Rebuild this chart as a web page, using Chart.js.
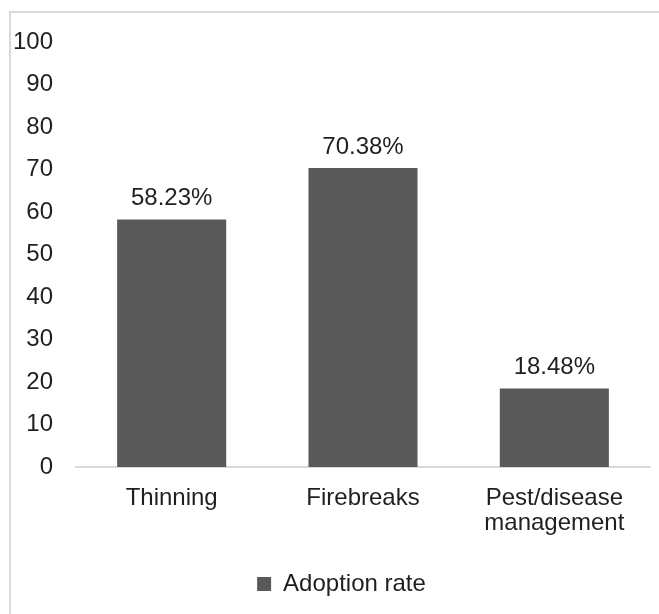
<!DOCTYPE html>
<html>
<head>
<meta charset="utf-8">
<script src="https://cdn.jsdelivr.net/npm/chart.js@4"></script>
<style>
html,body{margin:0;padding:0;background:#fff;}
#wrap{width:659px;height:614px;position:relative;}
</style>
</head>
<body>
<div id="wrap"><canvas id="c" width="659" height="614"></canvas></div>
<script>
const categories = [["Thinning"], ["Firebreaks"], ["Pest/disease", "management"]];
const adoptionRate = [58.23, 70.38, 18.48];
const valueLabels = ["58.23%", "70.38%", "18.48%"];
const seriesName = "Adoption rate";
const yTicks = [0, 10, 20, 30, 40, 50, 60, 70, 80, 90, 100];

const FONT = "'Liberation Sans', Arial, sans-serif";
const TEXT = "#1f1f1f";

const frame = {
  id: 'frame',
  beforeDraw(chart) {
    const ctx = chart.ctx;
    ctx.save();
    ctx.fillStyle = '#fff';
    ctx.fillRect(0, 0, chart.width, chart.height);
    ctx.strokeStyle = '#d9d9d9';
    ctx.lineWidth = 2;
    ctx.beginPath();
    ctx.moveTo(10, 614);
    ctx.lineTo(10, 12);
    ctx.lineTo(659, 12);
    ctx.stroke();
    ctx.restore();
  },
  afterLayout(chart) {
    if (chart.legend) { chart.legend.left += 21; }
  }
};

const dataLabels = {
  id: 'dataLabels',
  afterDatasetsDraw(chart) {
    const ctx = chart.ctx;
    const meta = chart.getDatasetMeta(0);
    ctx.save();
    ctx.font = "24px " + FONT;
    ctx.fillStyle = TEXT;
    ctx.textAlign = 'center';
    ctx.textBaseline = 'middle';
    meta.data.forEach((bar, i) => {
      ctx.fillText(valueLabels[i], bar.x, bar.y - 21);
    });
    ctx.restore();
  }
};

new Chart(document.getElementById('c'), {
  type: 'bar',
  data: {
    labels: categories,
    datasets: [{
      label: seriesName,
      data: adoptionRate,
      backgroundColor: '#595959',
      borderWidth: 0,
      categoryPercentage: 1,
      barPercentage: 0.57
    }]
  },
  options: {
    responsive: false,
    animation: false,
    layout: { padding: { top: 42, right: 9, left: 12, bottom: 8 } },
    plugins: {
      legend: {
        position: 'bottom',
        labels: {
          font: { size: 24, family: FONT },
          color: TEXT,
          boxWidth: 14,
          boxHeight: 14,
          padding: 10
        }
      },
      tooltip: { enabled: false }
    },
    scales: {
      x: {
        grid: { display: false, drawTicks: false },
        border: { display: true, color: '#d9d9d9', width: 2 },
        ticks: { font: { size: 24, family: FONT, lineHeight: 1.05 }, color: TEXT, padding: 19, maxRotation: 0 },
        afterFit(scale) { scale.height = 95; }
      },
      y: {
        min: 0, max: 100,
        afterBuildTicks(scale) { scale.ticks = yTicks.map(v => ({ value: v })); },
        grid: { display: false, drawTicks: false },
        border: { display: false },
        ticks: { font: { size: 24, family: FONT }, color: TEXT, padding: 23 },
        afterFit(scale) { scale.width = 64; }
      }
    }
  },
  plugins: [frame, dataLabels]
});
</script>
</body>
</html>
